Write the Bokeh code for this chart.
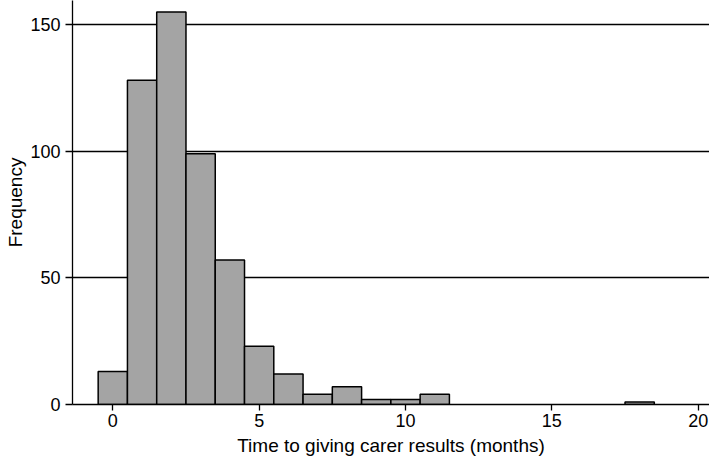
from bokeh.plotting import figure
from bokeh.models import Range1d, FixedTicker
from bokeh.embed import file_html
from bokeh.resources import INLINE

# Histogram data (bin centres in months, counts)
bin_centers = [0, 1, 2, 3, 4, 5, 6, 7, 8, 9, 10, 11, 18]
frequencies = [13, 128, 155, 99, 57, 23, 12, 4, 7, 2, 2, 4, 1]
bin_width = 1.0
x_ticks = [0, 5, 10, 15, 20]
y_ticks = [0, 50, 100, 150]
grid_ticks = [50, 100, 150]
x_title = "Time to giving carer results (months)"
y_title = "Frequency"

FONT = "Liberation Sans"

p = figure(width=709, height=459, output_backend="svg", toolbar_location=None,
           x_range=Range1d(-1.377, 20.386), y_range=Range1d(0, 159.5),
           min_border_left=72, min_border_right=0, min_border_top=0,
           min_border_bottom=55)

lefts = [c - bin_width / 2 for c in bin_centers]
rights = [c + bin_width / 2 for c in bin_centers]
p.quad(left=lefts, right=rights, bottom=0, top=frequencies,
       fill_color="#a4a4a4", line_color="black", line_width=1.5)

p.outline_line_color = None
p.background_fill_color = "white"
p.border_fill_color = "white"

p.xgrid.visible = False
p.ygrid.ticker = FixedTicker(ticks=grid_ticks)
p.ygrid.grid_line_color = "black"
p.ygrid.grid_line_width = 1.3
p.ygrid.grid_line_alpha = 1.0

for ax in (p.xaxis, p.yaxis):
    ax.axis_line_color = "black"
    ax.axis_line_width = 1.3
    ax.major_tick_line_color = "black"
    ax.major_tick_line_width = 1.3
    ax.minor_tick_line_color = None
    ax.major_tick_in = 0
    ax.major_label_text_font = FONT
    ax.major_label_text_font_size = "18px"
    ax.major_label_text_color = "black"
    ax.axis_label_text_font = FONT
    ax.axis_label_text_font_size = "19px"
    ax.axis_label_text_font_style = "normal"
    ax.axis_label_text_color = "black"

p.xaxis.ticker = FixedTicker(ticks=x_ticks)
p.yaxis.ticker = FixedTicker(ticks=y_ticks)
p.xaxis.major_tick_out = 6
p.yaxis.major_tick_out = 7
p.xaxis.major_label_standoff = 3
p.yaxis.major_label_standoff = 5
p.xaxis.axis_label = x_title
p.yaxis.axis_label = y_title
p.xaxis.axis_label_standoff = 5
p.yaxis.axis_label_standoff = 1

open("out.html", "w").write(file_html(p, INLINE))
